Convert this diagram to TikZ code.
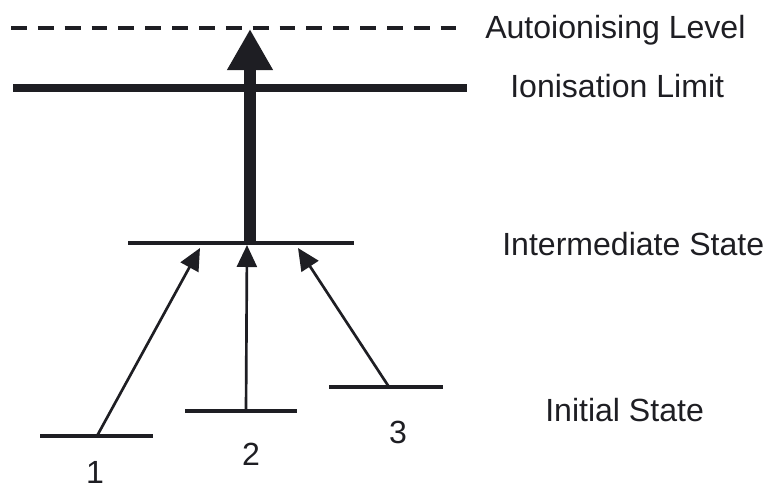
\documentclass[tikz,border=0pt]{standalone}
\usepackage{fontspec}
\setmainfont{Liberation Sans}
\usetikzlibrary{arrows.meta}
\definecolor{ink}{RGB}{30,30,35}
\tikzset{
  level/.style={draw=ink,line width=3pt},
  limit/.style={draw=ink,line width=5.4pt},
  auto level/.style={draw=ink,line width=3.4pt,dash pattern=on 11.3pt off 7.8pt},
  excite/.style={-{Triangle[length=5.5mm,width=5mm]},draw=ink,line width=1.9pt},
  ionise/.style={-{Triangle[length=10.3mm,width=10.8mm]},draw=ink,line width=8pt},
  tag/.style={font=\fontsize{22.8}{27}\selectfont,text=ink,inner sep=0pt},
}

\begin{document}
\begin{tikzpicture}[x=0.025cm,y=-0.025cm]
  \useasboundingbox (0,0) rectangle (765,489);
  % levels
  \coordinate (auto w) at (11,28);  \coordinate (auto e) at (456,28);
  \coordinate (lim w) at (13,88);   \coordinate (lim e) at (467,88);
  \coordinate (mid w) at (128,243); \coordinate (mid e) at (354,243);
  \coordinate (ini1 w) at (40,436);  \coordinate (ini1 e) at (153,436);
  \coordinate (ini2 w) at (185,411); \coordinate (ini2 e) at (297,411);
  \coordinate (ini3 w) at (329,387); \coordinate (ini3 e) at (443,387);
  \draw[auto level] (auto w) -- (auto e);
  \draw[limit] (lim w) -- (lim e);
  \draw[level] (mid w) -- (mid e);
  \draw[level] (ini1 w) -- (ini1 e);
  \draw[level] (ini2 w) -- (ini2 e);
  \draw[level] (ini3 w) -- (ini3 e);
  % transitions
  \coordinate (from1) at (97,436);  \coordinate (to1) at (200,248);
  \coordinate (from2) at (246,411); \coordinate (to2) at (247,245);
  \coordinate (from3) at (389,387); \coordinate (to3) at (298,248);
  \coordinate (pump) at (250,243);  \coordinate (top) at (250,29);
  \draw[excite] (from1) -- (to1);
  \draw[excite] (from2) -- (to2);
  \draw[excite] (from3) -- (to3);
  \draw[ionise] (pump) -- (top);
  % labels
  \node[tag,anchor=base west] (auto) at (485,38) {Autoionising Level};
  \node[tag,anchor=base west] (lim) at (510,97) {Ionisation Limit};
  \node[tag,anchor=base west] (mid) at (502,255) {Intermediate State};
  \node[tag,anchor=base west] (ini) at (545,421) {Initial State};
  \node[tag] (n1) at (95,472) {1};
  \node[tag] (n2) at (251,454) {2};
  \node[tag] (n3) at (398,432) {3};
\end{tikzpicture}
\end{document}
